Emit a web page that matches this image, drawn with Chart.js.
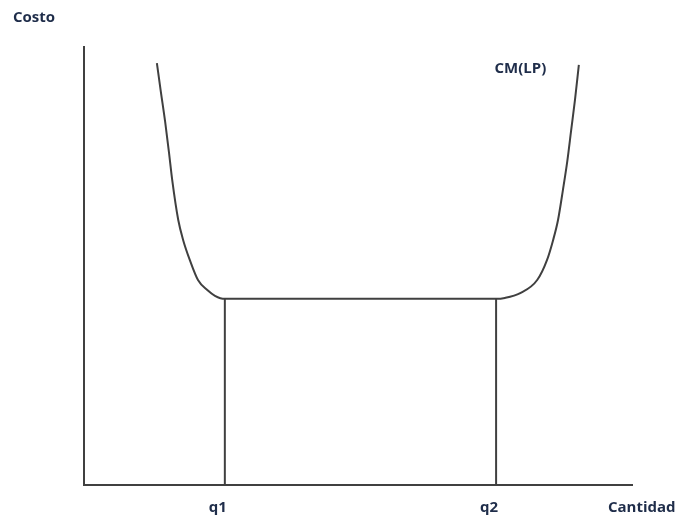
<!DOCTYPE html>
<html>
<head>
<meta charset="utf-8">
<script src="https://cdn.jsdelivr.net/npm/chart.js@4.4.1/dist/chart.umd.min.js"></script>
<style>
  html, body { margin: 0; padding: 0; background: #ffffff; }
  canvas { display: block; }
</style>
</head>
<body>
<canvas id="c" width="682" height="518"></canvas>
<script>
// Data (quantity on x, cost on y, arbitrary units 0-100)
const curveLabel = "CM(LP)";
const xTitle = "Cantidad";
const yTitle = "Costo";
const qLabels = ["q1", "q2"];
const qValues = [25.7, 75.2];
const flatCost = 42.5;
const leftBranchX = [13.3, 14.0, 14.8, 15.5, 16.1, 17.2, 18.1, 19.3, 20.8, 22.5, 23.9, 25.7];
const leftBranchY = [96.3, 90.0, 83.0, 76.0, 69.6, 60.5, 55.9, 51.4, 46.8, 44.5, 43.2, 42.5];
const rightBranchX = [75.2, 76.8, 79.6, 82.7, 84.5, 85.6, 86.5, 87.4, 88.2, 88.9, 89.6, 90.3];
const rightBranchY = [42.5, 42.7, 43.8, 46.8, 51.4, 55.9, 60.5, 67.4, 74.0, 81.0, 88.0, 95.9];

const curvePts = [];
leftBranchX.forEach((x, i) => curvePts.push({x, y: leftBranchY[i]}));
rightBranchX.forEach((x, i) => curvePts.push({x, y: rightBranchY[i]}));

const lineColor = '#404040';
const textColor = '#1f2d4a';

const labelsPlugin = {
  id: 'labels',
  afterDraw(chart) {
    const ctx = chart.ctx;
    const xs = chart.scales.x, ys = chart.scales.y;
    const area = chart.chartArea;
    ctx.save();
    ctx.fillStyle = textColor;
    ctx.font = 'bold 15px "Open Sans"';
    ctx.textBaseline = 'middle';
    ctx.textAlign = 'center';
    qLabels.forEach((t, i) => {
      ctx.fillText(t, xs.getPixelForValue(qValues[i]) - 7, area.bottom + 23);
    });
    ctx.textAlign = 'left';
    ctx.fillText(xTitle, area.right - 24, area.bottom + 23);
    ctx.fillText(yTitle, 13, 18);
    ctx.fillText(curveLabel, xs.getPixelForValue(74.9), ys.getPixelForValue(95.0));
    ctx.restore();
  }
};

new Chart(document.getElementById('c'), {
  type: 'scatter',
  data: {
    datasets: [
      {
        data: curvePts,
        showLine: true,
        borderColor: lineColor,
        borderWidth: 2,
        pointRadius: 0,
        cubicInterpolationMode: 'monotone',
        fill: false
      },
      {
        data: [{x: qValues[0], y: 0}, {x: qValues[0], y: flatCost}],
        showLine: true, borderColor: lineColor, borderWidth: 2, pointRadius: 0, tension: 0
      },
      {
        data: [{x: qValues[1], y: 0}, {x: qValues[1], y: flatCost}],
        showLine: true, borderColor: lineColor, borderWidth: 2, pointRadius: 0, tension: 0
      }
    ]
  },
  options: {
    responsive: false,
    animation: false,
    layout: { padding: { left: 84, top: 47, right: 50, bottom: 33 } },
    plugins: { legend: { display: false }, tooltip: { enabled: false } },
    scales: {
      x: {
        type: 'linear', min: 0, max: 100,
        grid: { display: false, drawTicks: false },
        ticks: { display: false },
        border: { display: true, color: lineColor, width: 2 }
      },
      y: {
        type: 'linear', min: 0, max: 100,
        grid: { display: false, drawTicks: false },
        ticks: { display: false },
        border: { display: true, color: lineColor, width: 2 }
      }
    }
  },
  plugins: [labelsPlugin]
});
</script>
</body>
</html>
